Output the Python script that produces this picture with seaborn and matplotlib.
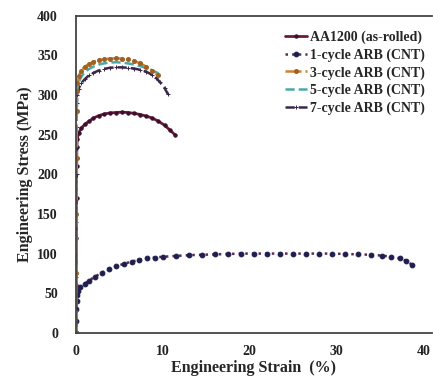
import numpy as np
import pandas as pd
import matplotlib
matplotlib.use("Agg")
import matplotlib.pyplot as plt
import seaborn as sns

# ---- data ----
labels = ["AA1200 (as-rolled)", "1-cycle ARB (CNT)", "3-cycle ARB (CNT)",
          "5-cycle ARB (CNT)", "7-cycle ARB (CNT)"]

strain_asrolled = [0, 0.02, 0.04, 0.06, 0.08, 0.1, 0.15, 0.3, 0.6, 1.0, 1.5, 2.0, 2.6, 3.2,
                   3.9, 4.6, 5.3, 6.0, 6.7, 7.4, 8.1, 8.8, 9.5, 10.2, 10.8, 11.4]
stress_asrolled = [0, 60, 120, 170, 210, 235, 245, 252, 258, 263, 267, 271, 274, 276,
                   277.5, 278, 278.5, 278, 277, 275.5, 273.5, 271, 267, 262, 256, 250]

strain_c1 = [0, 0.02, 0.05, 0.08, 0.12, 0.2, 0.5, 1.0, 1.5, 2.2, 3.0, 3.8, 4.6, 5.5, 6.4,
             7.3, 8.2, 9.1, 10.0, 11.5, 13.0, 14.5, 16.0, 17.5, 19.0, 20.5, 22.0, 23.5,
             25.0, 26.5, 28.0, 29.5, 31.0, 32.5, 34.0, 35.2, 36.3, 37.3, 38.0, 38.7]
stress_c1 = [0, 15, 30, 40, 48, 53, 58, 62, 66, 71, 76, 80, 84, 87, 90,
             92, 94, 95, 96, 97, 98, 98.5, 99, 99.5, 100, 100, 100, 100,
             100, 100, 100, 100, 99.5, 99, 98.5, 97.5, 96, 94, 91, 86]

strain_c3 = [0, 0.02, 0.04, 0.06, 0.08, 0.1, 0.15, 0.3, 0.6, 1.0, 1.5, 2.0, 2.6, 3.2,
             3.9, 4.6, 5.3, 6.0, 6.7, 7.4, 8.1, 8.8, 9.4]
stress_c3 = [0, 75, 150, 220, 280, 305, 315, 324, 331, 336, 339, 342, 344, 345.5,
             346, 346.5, 346, 345, 343, 340, 336, 331, 325]

strain_c5 = [0, 0.02, 0.04, 0.06, 0.08, 0.1, 0.15, 0.3, 0.6, 1.0, 1.5, 2.0, 2.6, 3.2,
             3.9, 4.6, 5.3, 6.0, 6.7, 7.4, 8.1, 8.8, 9.6]
stress_c5 = [0, 72, 145, 215, 270, 298, 308, 316, 323, 329, 333, 336, 338.5, 340,
             341, 341.5, 341, 340, 338.5, 336.5, 334, 331, 327]

strain_c7 = [0, 0.02, 0.04, 0.06, 0.08, 0.1, 0.15, 0.3, 0.6, 1.0, 1.5, 2.0, 2.6, 3.2,
             3.9, 4.6, 5.3, 6.0, 6.7, 7.4, 8.1, 8.7, 9.2, 9.7, 10.2, 10.6]
stress_c7 = [0, 70, 140, 200, 260, 290, 300, 308, 315, 320, 325, 328, 331, 333,
             334.5, 335, 335, 334.5, 333.5, 332, 329.5, 326, 322, 316, 309, 301]

xticks = [0, 10, 20, 30, 40]
yticks = [0, 50, 100, 150, 200, 250, 300, 350, 400]

series = [
    (labels[0], strain_asrolled, stress_asrolled),
    (labels[1], strain_c1, stress_c1),
    (labels[2], strain_c3, stress_c3),
    (labels[3], strain_c5, stress_c5),
    (labels[4], strain_c7, stress_c7),
]
styles = {
    labels[0]: dict(color="#6e1836", linestyle="-", marker="o", markersize=2.4, lw=2.0,
                    markerfacecolor="#3a1030", markeredgecolor="#3a1030"),
    labels[1]: dict(color="#5a2a55", linestyle=":", marker="o", markersize=3.4, lw=1.8,
                    markerfacecolor="#1e1e50", markeredgecolor="#1e1e50"),
    labels[2]: dict(color="#c8842c", linestyle="-.", marker="o", markersize=2.8, lw=1.8,
                    markerfacecolor="#a06020", markeredgecolor="#a06020"),
    labels[3]: dict(color="#4aa8ac", linestyle="--", marker=None, lw=1.8),
    labels[4]: dict(color="#3a2848", linestyle="--", marker="+", markersize=3.0, lw=1.8,
                    markeredgecolor="#3a2848"),
}

sns.set_style("white")
plt.rcParams["font.family"] = ["Liberation Serif", "DejaVu Serif"]
plt.rcParams["font.weight"] = "bold"

fig = plt.figure(figsize=(4.33, 3.87), dpi=100)
ax = fig.add_axes([0.1755, 0.140, 0.822, 0.819])

order = [labels[1], labels[0], labels[4], labels[3], labels[2]]
lookup = {n: (x, y) for n, x, y in series}
for name in order:
    x, y = lookup[name]
    df = pd.DataFrame({"strain": x, "stress": y})
    sns.lineplot(data=df, x="strain", y="stress", ax=ax, label=name, sort=False,
                 estimator=None, **styles[name])

ax.set_xlim(0, 41)
ax.set_ylim(0, 400)
ax.set_xticks(xticks)
ax.set_yticks(yticks)
ax.tick_params(direction="in", length=3, width=1.2, labelsize=10, colors="#222222")
ax.tick_params(axis="x", pad=9)
ax.tick_params(axis="y", pad=13)
for lab in ax.get_xticklabels() + ax.get_yticklabels():
    lab.set_fontweight("bold")
ax.set_xlabel("Engineering Strain  (%)", fontsize=11.5, fontweight="bold", labelpad=1)
ax.set_ylabel("Engineering Stress (MPa)", fontsize=11.5, fontweight="bold", labelpad=3)

for side in ["left", "bottom", "top"]:
    ax.spines[side].set_visible(True)
    ax.spines[side].set_color("#444444")
    ax.spines[side].set_linewidth(1.3)
ax.spines["right"].set_visible(False)

handles, labs = ax.get_legend_handles_labels()
hmap = dict(zip(labs, handles))
leg = ax.legend([hmap[l] for l in labels], labels, loc="upper right",
                bbox_to_anchor=(1.0, 0.975), frameon=False,
                handlelength=1.6, handletextpad=0.2, labelspacing=0.3,
                borderaxespad=0.1,
                prop={"weight": "bold", "size": 10})

fig.savefig("out.png", dpi=100)
